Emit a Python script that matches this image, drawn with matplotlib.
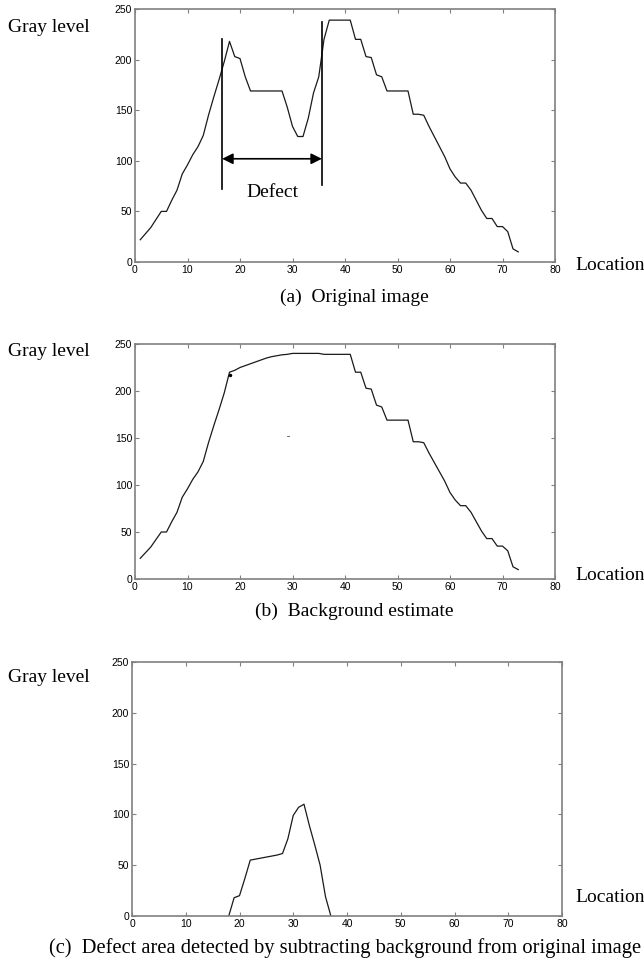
import matplotlib
matplotlib.use('Agg')
import matplotlib.pyplot as plt

# location index
x = list(range(1, 74))

# (a) original gray level profile
original = [22, 28, 34, 42, 50, 50, 61, 71, 87, 96,
            106, 114, 125, 145, 163, 180, 198, 218, 203, 201,
            183, 169, 169, 169, 169, 169, 169, 169, 153, 134,
            124, 124, 142, 167, 183, 220, 239, 239, 239, 239,
            239, 220, 220, 203, 202, 185, 183, 169, 169, 169,
            169, 169, 146, 146, 145, 134, 124, 114, 104, 92,
            84, 78, 78, 71, 61, 51, 43, 43, 35, 35,
            30, 13, 10]

# (b) background estimate
background = [22, 28, 34, 42, 50, 50, 61, 71, 87, 96,
              106, 114, 125, 145, 163, 180, 198, 220, 222, 225,
              227, 229, 231, 233, 235, 236.5, 237.5, 238.5, 239, 240,
              240, 240, 240, 240, 240, 239, 239, 239, 239, 239,
              239, 220, 220, 203, 202, 185, 183, 169, 169, 169,
              169, 169, 146, 146, 145, 134, 124, 114, 104, 92,
              84, 78, 78, 71, 61, 51, 43, 43, 35, 35,
              30, 13, 10]

# (c) defect = original - background (clipped)
defect_x = [18, 19, 20, 21, 22, 23, 24, 25, 26, 27, 28, 29, 30, 31, 32, 33, 34, 35, 36, 37]
defect = [0, 18, 20, 37, 55, 56, 57, 58, 59, 60, 61.5, 76, 99, 107, 110, 89, 70, 50, 19, 0]

W, H = 644, 965
fig = plt.figure(figsize=(W / 100, H / 100), dpi=100)

serif = ['Liberation Serif', 'DejaVu Serif']
tick_font = 'Liberation Sans'
line_col = '#1a1a1a'
frame_col = '#808080'


def px_axes(l, t, r, b):
    return fig.add_axes([l / W, 1 - b / H, (r - l) / W, (b - t) / H])


def style(ax):
    ax.set_xlim(0, 80)
    ax.set_ylim(0, 250)
    ax.set_xticks(range(0, 81, 10))
    ax.set_yticks(range(0, 251, 50))
    ax.tick_params(direction='in', top=True, right=True, length=3,
                   width=0.8, color=frame_col, labelsize=7.5, pad=2)
    for lab in ax.get_xticklabels() + ax.get_yticklabels():
        lab.set_family(tick_font)
    for sp in ax.spines.values():
        sp.set_color(frame_col)
        sp.set_linewidth(1.2)


def ftext(px, py, s, size=14, **kw):
    fig.text(px / W, 1 - py / H, s, family=serif, fontsize=size, **kw)


# (a)
ax1 = px_axes(135, 9, 555, 262)
ax1.plot(x, original, color=line_col, lw=0.9)
style(ax1)
ax1.plot([16.6, 16.6], [72, 220], color='black', lw=1.2)
ax1.plot([35.6, 35.6], [76, 237], color='black', lw=1.2)
ax1.annotate('', xy=(16.6, 102), xytext=(35.6, 102),
             arrowprops=dict(arrowstyle='<|-|>', color='black', lw=1.2,
                             mutation_scale=16, shrinkA=0, shrinkB=0))
ax1.text(26.2, 69, 'Defect', family=serif, fontsize=14, ha='center', va='center')
ftext(8, 28, 'Gray level', va='center')
ftext(575, 265, 'Location', va='center')
ftext(354, 297, '(a)  Original image', ha='center', va='center')

# (b)
ax2 = px_axes(135, 344, 555, 579)
ax2.plot(x, background, color=line_col, lw=0.9)
ax2.plot([18], [217], marker='o', ms=1.5, color='black')
ax2.plot([28.9, 29.3], [152, 152], color='#555555', lw=0.6)
style(ax2)
ftext(8, 352, 'Gray level', va='center')
ftext(575, 575, 'Location', va='center')
ftext(354, 611, '(b)  Background estimate', ha='center', va='center')

# (c)
ax3 = px_axes(132, 662, 562, 916)
ax3.plot(defect_x, defect, color=line_col, lw=0.9)
style(ax3)
ftext(8, 678, 'Gray level', va='center')
ftext(575, 898, 'Location', va='center')
ftext(345, 948, '(c)  Defect area detected by subtracting background from original image',
      size=14.8, ha='center', va='center')

fig.savefig('out.png', dpi=100)
